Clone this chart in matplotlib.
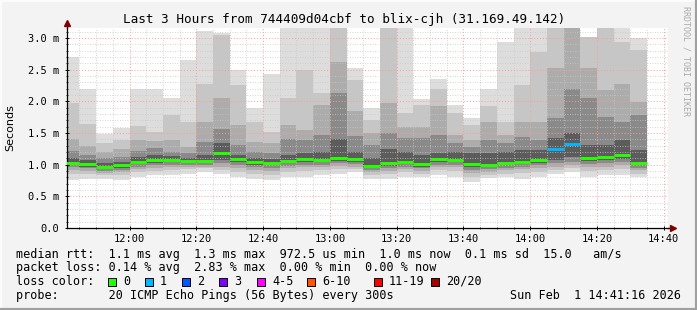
import matplotlib.pyplot as plt
from matplotlib.patches import Rectangle
from matplotlib.lines import Line2D
from matplotlib.ticker import MultipleLocator, FuncFormatter
import numpy as np

W, H = 697, 310

# ---------------- data (ms), one entry per 5 minute step from 11:40 ----------------
first_step = 11 * 60 + 40   # minutes after midnight
step = 5

top = [2.70, 2.19, 1.48, 1.58, 2.19, 2.20, 2.06, 2.65, 3.11, 3.08,
       2.49, 1.89, 2.43, 3.20, 3.20, 3.20, 3.20, 2.52, 1.89, 3.20,
       3.20, 2.04, 2.36, 1.95, 1.74, 2.20, 2.93, 3.20, 3.20, 3.20,
       3.20, 3.02, 3.20, 3.20, 3.00]
up2 = [1.98, 1.64, 1.35, 1.39, 1.61, 1.52, 1.79, 1.68, 2.28, 3.04,
       2.26, 1.68, 1.52, 2.05, 2.49, 2.13, 3.20, 2.34, 1.71, 3.20,
       1.81, 1.94, 2.20, 1.81, 1.62, 1.92, 1.68, 2.26, 2.78, 3.20,
       3.20, 3.02, 3.20, 2.94, 2.81]
up3 = [1.40, 1.30, 1.20, 1.24, 1.39, 1.38, 1.39, 1.28, 1.68, 2.05,
       1.63, 1.36, 1.34, 1.63, 1.55, 1.94, 2.62, 1.84, 1.50, 1.97,
       1.60, 1.60, 1.92, 1.47, 1.39, 1.68, 1.47, 1.68, 1.68, 2.52,
       3.20, 2.52, 2.18, 2.28, 1.99]
up4 = [1.22, 1.16, 1.10, 1.12, 1.22, 1.26, 1.20, 1.18, 1.36, 1.57,
       1.31, 1.20, 1.18, 1.40, 1.39, 1.47, 2.13, 1.45, 1.31, 1.50,
       1.42, 1.42, 1.47, 1.34, 1.28, 1.39, 1.34, 1.44, 1.39, 1.73,
       2.20, 2.05, 1.76, 1.68, 1.78]
up5 = [1.10, 1.07, 1.02, 1.05, 1.12, 1.15, 1.13, 1.11, 1.16, 1.34,
       1.15, 1.10, 1.09, 1.15, 1.18, 1.20, 1.40, 1.20, 1.10, 1.25,
       1.20, 1.15, 1.18, 1.20, 1.18, 1.18, 1.20, 1.23, 1.23, 1.42,
       1.50, 1.31, 1.31, 1.39, 1.23]
median = [1.03, 1.01, 0.96, 0.99, 1.05, 1.07, 1.08, 1.06, 1.06, 1.18,
          1.09, 1.04, 1.03, 1.06, 1.09, 1.08, 1.11, 1.09, 0.98, 1.02,
          1.05, 1.01, 1.09, 1.08, 1.01, 0.99, 1.03, 1.05, 1.07, 1.25,
          1.33, 1.11, 1.12, 1.15, 1.03]
lo5 = [0.99, 0.97, 0.93, 0.95, 1.01, 1.03, 1.04, 1.03, 1.03, 1.07,
       1.04, 1.00, 0.99, 1.02, 1.04, 1.04, 1.06, 1.05, 0.95, 0.98,
       1.01, 0.97, 1.04, 1.04, 0.97, 0.96, 0.99, 1.01, 1.03, 1.08,
       1.12, 1.06, 1.07, 1.09, 0.99]
lo4 = [0.96, 0.94, 0.90, 0.92, 0.97, 0.99, 1.00, 1.00, 1.00, 1.02,
       1.00, 0.96, 0.95, 0.98, 1.00, 1.00, 1.02, 1.01, 0.92, 0.94,
       0.97, 0.94, 1.00, 1.00, 0.92, 0.93, 0.95, 0.97, 0.99, 1.02,
       1.05, 1.01, 1.02, 1.04, 0.95]
lo3 = [0.92, 0.90, 0.87, 0.88, 0.93, 0.95, 0.96, 0.97, 0.97, 0.97,
       0.95, 0.91, 0.90, 0.94, 0.96, 0.96, 0.98, 0.97, 0.88, 0.90,
       0.93, 0.90, 0.96, 0.96, 0.87, 0.89, 0.91, 0.93, 0.95, 0.97,
       0.99, 0.96, 0.97, 0.99, 0.91]
lo2 = [0.86, 0.85, 0.83, 0.83, 0.88, 0.90, 0.91, 0.93, 0.94, 0.92,
       0.89, 0.85, 0.84, 0.88, 0.90, 0.91, 0.93, 0.93, 0.84, 0.85,
       0.88, 0.86, 0.91, 0.90, 0.81, 0.84, 0.86, 0.87, 0.89, 0.91,
       0.94, 0.90, 0.92, 0.93, 0.86]
bottom = [0.76, 0.78, 0.78, 0.76, 0.81, 0.84, 0.84, 0.86, 0.89, 0.86,
          0.81, 0.78, 0.76, 0.81, 0.81, 0.84, 0.86, 0.89, 0.78, 0.78,
          0.81, 0.81, 0.84, 0.81, 0.73, 0.79, 0.81, 0.78, 0.81, 0.86,
          0.89, 0.81, 0.84, 0.84, 0.81]
loss = [0, 0, 0, 0, 0, 0, 0, 0, 0, 0,
        0, 0, 0, 0, 0, 0, 0, 0, 0, 0,
        0, 0, 0, 0, 0, 0, 0, 0, 0, 1,
        1, 0, 0, 0, 0]

loss_labels = ['0', '1', '2', '3', '4-5', '6-10', '11-19', '20/20']
loss_colors = ['#26ff00', '#00b8ff', '#0059ff', '#7e00ff',
               '#ff00ff', '#ff5500', '#ff0000', '#a10000']

title = 'Last 3 Hours from 744409d04cbf to blix-cjh (31.169.49.142)'
stat_lines = [
    'median rtt:  1.1 ms avg  1.3 ms max  972.5 us min  1.0 ms now  0.1 ms sd  15.0   am/s',
    'packet loss: 0.14 % avg  2.83 % max  0.00 % min  0.00 % now',
    'loss color:',
    'probe:       20 ICMP Echo Pings (56 Bytes) every 300s',
]
stamp = 'Sun Feb  1 14:41:16 2026'

# ---------------- figure ----------------
mono = 'DejaVu Sans Mono'
fig = plt.figure(figsize=(W / 100, H / 100), dpi=100, facecolor='#f3f3f3')
ax = fig.add_axes([67 / W, (H - 228) / H, 601 / W, 200 / H])
ax.set_facecolor('white')

n = len(median)
x = first_step + step * np.arange(n)
end = 14 * 60 + 41 + 16 / 60
ax.set_xlim(end - 180, end)
ax.set_ylim(0, 200 / 63.33)

# smoke: outer pings lightest, inner pings darkest
shades = ['#dddddd', '#c6c6c6', '#acacac', '#8a8a8a', '#5c5c5c']
lows = [bottom, lo2, lo3, lo4, lo5]
highs = [top, up2, up3, up4, up5]
for lo, hi, c in zip(lows, highs, shades):
    lo = np.array(lo)
    hi = np.array(hi)
    ax.bar(x, hi - lo, bottom=lo, width=step, align='edge', color=c,
           linewidth=0, zorder=1)

for xi, m, l in zip(x, median, loss):
    ax.hlines(m, xi, xi + step, colors=loss_colors[l], lw=2.1, zorder=4)

# grid
ax.xaxis.set_major_locator(MultipleLocator(20))
ax.xaxis.set_minor_locator(MultipleLocator(5))
ax.yaxis.set_major_locator(MultipleLocator(0.5))
ax.yaxis.set_minor_locator(MultipleLocator(0.1))
ax.set_axisbelow(False)
ax.grid(which='minor', color='#c8c8c8', ls=(0, (1, 2)), lw=0.6, zorder=2)
ax.grid(which='major', color='#ff9a9a', ls=(0, (1, 2)), lw=0.7, zorder=3)

ax.xaxis.set_major_formatter(FuncFormatter(
    lambda v, p: '%02d:%02d' % (int(v) // 60, int(v) % 60)))
ax.yaxis.set_major_formatter(FuncFormatter(
    lambda v, p: '0.0' if abs(v) < 1e-9 else '%.1f m' % v))
ax.tick_params(which='major', length=3, width=0.7, direction='inout',
               labelsize=7.5, pad=3)
ax.tick_params(which='minor', length=2, width=0.6, direction='inout')
ax.tick_params(axis='y', which='major', pad=4)
for lab in ax.get_xticklabels() + ax.get_yticklabels():
    lab.set_family(mono)

for s in ['top', 'right']:
    ax.spines[s].set_visible(False)
for s in ['left', 'bottom']:
    ax.spines[s].set_linewidth(0.9)

# axis arrows
ax.plot([1, 1 + 6 / 601], [0, 0], color='black', lw=0.9,
        transform=ax.transAxes, clip_on=False)
ax.plot([1 + 5 / 601], [0], marker='>', ms=5, color='#7f0000',
        transform=ax.transAxes, clip_on=False)
ax.plot([0, 0], [1, 1 + 6 / 200], color='black', lw=0.9,
        transform=ax.transAxes, clip_on=False)
ax.plot([0], [1 + 5 / 200], marker='^', ms=5, color='#7f0000',
        transform=ax.transAxes, clip_on=False)

# texts
fig.text(344 / W, 1 - 19 / H, title, ha='center', va='center',
         family=mono, size=9.1)
fig.text(10 / W, 1 - 128 / H, 'Seconds', rotation=90, ha='center',
         va='center', size=8)
fig.text(686 / W, 1 - 6 / H, 'RRDTOOL / TOBI OETIKER', rotation=270,
         ha='center', va='top', family=mono, size=6, color='#aaaaaa')

line_y = [254.5, 268, 281.5, 295.5]
for txt, yy in zip(stat_lines, line_y):
    fig.text(16 / W, 1 - yy / H, txt, ha='left', va='center',
             family=mono, size=8.5)
fig.text(681 / W, 1 - line_y[3] / H, stamp, ha='right', va='center',
         family=mono, size=8.5)

box_x = [108, 145, 182, 219, 257, 307, 374, 431]
for bx, lab, col in zip(box_x, loss_labels, loss_colors):
    fig.add_artist(Rectangle((bx / W, 1 - 285.5 / H), 8 / W, 8 / H,
                             facecolor=col, edgecolor='black', lw=0.7,
                             transform=fig.transFigure))
    fig.text((bx + 15) / W, 1 - line_y[2] / H, lab, ha='left', va='center',
             family=mono, size=8.5)

# 3d frame of the canvas
fig.add_artist(Line2D([0, 0, 1], [0, 1, 1], color='#fcfcfc', lw=2,
                      transform=fig.transFigure))
fig.add_artist(Line2D([0, 1, 1], [0, 0, 1], color='#a0a0a0', lw=3,
                      transform=fig.transFigure))

fig.savefig('out.png', dpi=100, facecolor=fig.get_facecolor())
